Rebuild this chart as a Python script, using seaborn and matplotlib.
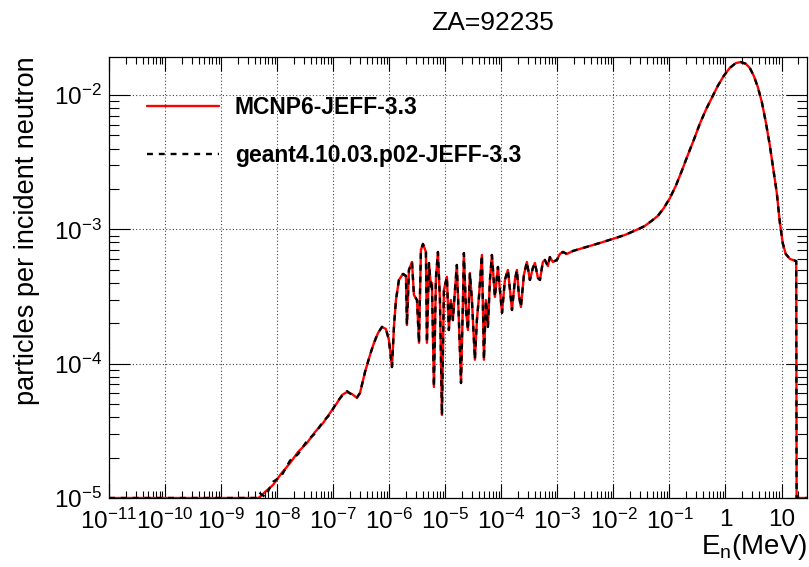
import numpy as np
import pandas as pd
import matplotlib
matplotlib.use("Agg")
import matplotlib.pyplot as plt
import seaborn as sns
from matplotlib.ticker import LogLocator, NullFormatter

# ---------------- data ----------------
energy = [1.0e-11, 3.3e-9, 4.6e-9, 4.95e-9, 6.1e-9, 8.45e-9, 1.17e-8, 1.70e-8, 2.36e-8,
          3.41e-8, 4.74e-8, 6.58e-8, 8.77e-8, 1.17e-7, 1.44e-7, 1.76e-7, 2.17e-7, 2.66e-7,
          3.01e-7, 3.70e-7, 4.54e-7, 5.35e-7, 6.30e-7, 7.43e-7, 8.75e-7, 9.88e-7, 1.12e-6,
          1.22e-6, 1.32e-6, 1.49e-6, 1.76e-6, 1.99e-6, 2.07e-6, 2.25e-6, 2.55e-6, 2.76e-6,
          3.13e-6, 3.40e-6, 3.68e-6, 4.00e-6, 4.52e-6, 4.71e-6, 5.12e-6, 5.56e-6, 5.78e-6,
          6.28e-6, 6.82e-6, 7.40e-6, 8.04e-6, 8.73e-6, 9.46e-6, 1.07e-5, 1.16e-5, 1.26e-5,
          1.37e-5, 1.49e-5, 1.61e-5, 1.75e-5, 1.91e-5, 2.07e-5, 2.15e-5, 2.34e-5, 2.54e-5,
          2.75e-5, 2.99e-5, 3.38e-5, 3.67e-5, 3.99e-5, 4.51e-5, 4.90e-5, 5.31e-5, 5.77e-5,
          6.27e-5, 6.80e-5, 7.69e-5, 8.71e-5, 9.44e-5, 1.03e-4, 1.16e-4, 1.31e-4, 1.43e-4,
          1.55e-4, 1.75e-4, 1.90e-4, 2.06e-4, 2.24e-4, 2.53e-4, 2.86e-4, 3.24e-4, 3.66e-4,
          3.98e-4, 4.50e-4, 4.89e-4, 5.52e-4, 6.00e-4, 6.78e-4, 7.36e-4, 8.32e-4, 9.82e-4,
          1.11e-3, 1.26e-3, 1.48e-3, 1.89e-3, 2.52e-3, 3.80e-3, 5.74e-3, 9.77e-3, 1.60e-2,
          2.73e-2, 3.64e-2, 4.85e-2, 6.21e-2, 7.94e-2, 0.102, 0.130, 0.166, 0.213, 0.272,
          0.348, 0.446, 0.570, 0.729, 0.933, 1.19, 1.53, 1.88, 2.30, 2.72, 3.20, 3.77, 4.45,
          5.24, 6.17, 7.28, 8.24, 9.31, 10.5, 11.9, 14.1, 17.9, 18.3, 18.45, 18.6, 28.5]

mcnp_values = [0.0, 0.0, 0.0, 1.02e-5, 1.11e-5, 1.25e-5, 1.51e-5, 1.82e-5, 2.20e-5,
               2.57e-5, 3.10e-5, 3.61e-5, 4.29e-5, 5.10e-5, 5.85e-5, 6.15e-5, 5.94e-5, 5.56e-5,
               6.05e-5, 8.67e-5, 1.16e-4, 1.43e-4, 1.69e-4, 1.88e-4, 1.81e-4, 1.50e-4, 9.44e-5,
               1.94e-4, 2.98e-4, 4.20e-4, 4.66e-4, 4.50e-4, 1.94e-4, 4.99e-4, 5.72e-4, 3.25e-4,
               2.98e-4, 1.43e-4, 7.03e-4, 7.79e-4, 6.79e-4, 1.43e-4, 5.62e-4, 3.72e-4, 3.99e-4,
               6.71e-5, 4.35e-4, 6.79e-4, 2.98e-4, 4.15e-5, 3.54e-4, 4.43e-4, 1.78e-4, 2.98e-4,
               2.11e-4, 3.54e-4, 5.43e-4, 2.11e-4, 7.18e-5, 2.98e-4, 6.67e-4, 2.51e-4, 1.78e-4,
               4.73e-4, 2.98e-4, 1.07e-4, 2.11e-4, 3.14e-4, 6.45e-4, 1.07e-4, 2.98e-4, 1.88e-4,
               4.20e-4, 6.45e-4, 3.14e-4, 5.25e-4, 3.54e-4, 2.39e-4, 4.20e-4, 4.99e-4, 3.54e-4,
               2.51e-4, 4.20e-4, 4.99e-4, 3.25e-4, 2.64e-4, 4.57e-4, 5.72e-4, 4.20e-4, 5.16e-4,
               5.62e-4, 4.35e-4, 4.20e-4, 5.72e-4, 5.92e-4, 5.33e-4, 6.22e-4, 5.72e-4, 5.92e-4,
               6.56e-4, 6.79e-4, 6.56e-4, 6.90e-4, 7.15e-4, 7.52e-4, 7.92e-4, 8.49e-4, 9.08e-4,
               1.00e-3, 1.06e-3, 1.16e-3, 1.26e-3, 1.44e-3, 1.71e-3, 2.11e-3, 2.72e-3, 3.58e-3, 4.63e-3,
               6.10e-3, 7.75e-3, 9.51e-3, 1.17e-2, 1.39e-2, 1.59e-2, 1.73e-2, 1.76e-2, 1.71e-2, 1.59e-2, 1.39e-2, 1.15e-2, 8.89e-3,
               6.31e-3, 4.25e-3, 2.67e-3, 1.87e-3, 1.14e-3, 7.92e-4, 6.56e-4, 6.03e-4, 5.82e-4, 5.80e-4, 4.8e-5, 0.0, 0.0]

# Geant4 differs only in the noisy low-energy part
geant4_low = [0.0, 0.0, 0.0, 1.08e-5, 1.02e-5, 1.32e-5, 1.44e-5, 1.90e-5, 2.12e-5,
              2.66e-5, 3.02e-5, 3.70e-5, 4.20e-5, 5.20e-5, 5.75e-5, 6.25e-5, 5.85e-5, 5.62e-5]
geant4_values = geant4_low + mcnp_values[len(geant4_low):]

series_labels = ["MCNP6-JEFF-3.3", "geant4.10.03.p02-JEFF-3.3"]
x_tick_values = [1e-11, 1e-10, 1e-9, 1e-8, 1e-7, 1e-6, 1e-5, 1e-4, 1e-3, 1e-2, 1e-1, 1, 10]
x_tick_labels = [r"$10^{-11}$", r"$10^{-10}$", r"$10^{-9}$", r"$10^{-8}$", r"$10^{-7}$",
                 r"$10^{-6}$", r"$10^{-5}$", r"$10^{-4}$", r"$10^{-3}$", r"$10^{-2}$",
                 r"$10^{-1}$", "1", "10"]
y_tick_values = [1e-5, 1e-4, 1e-3, 1e-2]
y_tick_labels = [r"$10^{-5}$", r"$10^{-4}$", r"$10^{-3}$", r"$10^{-2}$"]
title_text = "ZA=92235"
y_title = "particles per incident neutron"
x_title = r"E$_{\mathregular{n}}$(MeV)"

xmin, xmax = 1e-11, 28.5
ymin, ymax = 1e-5, 1.92e-2

# ---------------- style ----------------
sns.set_theme(style="ticks")
plt.rcParams["font.family"] = ["Liberation Sans", "DejaVu Sans"]
plt.rcParams["mathtext.fontset"] = "custom"
plt.rcParams["mathtext.rm"] = "Liberation Sans"
plt.rcParams["mathtext.it"] = "Liberation Sans:italic"
plt.rcParams["mathtext.bf"] = "Liberation Sans:bold"
plt.rcParams["mathtext.default"] = "regular"
for k in ["text.color", "axes.labelcolor", "xtick.color", "ytick.color", "axes.edgecolor"]:
    plt.rcParams[k] = "black"

W, H = 809, 567
fig = plt.figure(figsize=(W / 100, H / 100), dpi=100)
ax = fig.add_axes([109 / W, 1 - 498 / H, 698 / W, 441 / H])

df_m = pd.DataFrame({"E": energy, "v": np.clip(mcnp_values, ymin, None)})
df_g = pd.DataFrame({"E": energy, "v": np.clip(geant4_values, ymin, None)})

sns.lineplot(data=df_m, x="E", y="v", color="#ff0000", linewidth=1.7,
             estimator=None, sort=False, label=series_labels[0], ax=ax)
sns.lineplot(data=df_g, x="E", y="v", color="black", linewidth=1.7,
             estimator=None, sort=False, label=series_labels[1], ax=ax)
ax.lines[1].set_linestyle((0, (2.5, 2.5)))

ax.set_xscale("log")
ax.set_yscale("log")
ax.set_xlim(xmin, xmax)
ax.set_ylim(ymin, ymax)
ax.set_xlabel("")
ax.set_ylabel("")

ax.set_xticks(x_tick_values, x_tick_labels)
ax.set_yticks(y_tick_values, y_tick_labels)
ax.xaxis.set_minor_locator(LogLocator(base=10, subs=np.arange(2, 10), numticks=100))
ax.yaxis.set_minor_locator(LogLocator(base=10, subs=np.arange(2, 10), numticks=100))
ax.xaxis.set_minor_formatter(NullFormatter())
ax.yaxis.set_minor_formatter(NullFormatter())

ax.tick_params(which="both", direction="in", top=True, right=True, color="black", width=0.8)
ax.tick_params(axis="x", which="major", length=10, labelsize=17.5, pad=8)
ax.tick_params(axis="x", which="minor", length=5)
ax.tick_params(axis="y", which="major", length=15, labelsize=17.5, pad=5)
ax.tick_params(axis="y", which="minor", length=7.5)

for s in ax.spines.values():
    s.set_color("black")
    s.set_linewidth(0.9)

ax.grid(True, which="major", color="#444444", linestyle=(0, (1, 2)), linewidth=0.8)
ax.grid(False, which="minor")
ax.set_axisbelow(True)

handles, labels = ax.get_legend_handles_labels()
ax.legend(handles, labels, loc="upper left", bbox_to_anchor=(0.0544, 0.912),
          frameon=False, prop={"weight": "bold", "size": 16.5},
          handlelength=3.15, handletextpad=0.68, labelspacing=1.12,
          borderpad=0, borderaxespad=0)

fig.text(493 / W, 1 - 23 / H, title_text, ha="center", va="center", fontsize=19)
fig.text(27 / W, 1 - 56 / H, y_title, ha="center", va="top", rotation=90, fontsize=19.5)
fig.text(807 / W, 1 - 547 / H, x_title, ha="right", va="center", fontsize=20)

fig.savefig("out.png", dpi=100)
